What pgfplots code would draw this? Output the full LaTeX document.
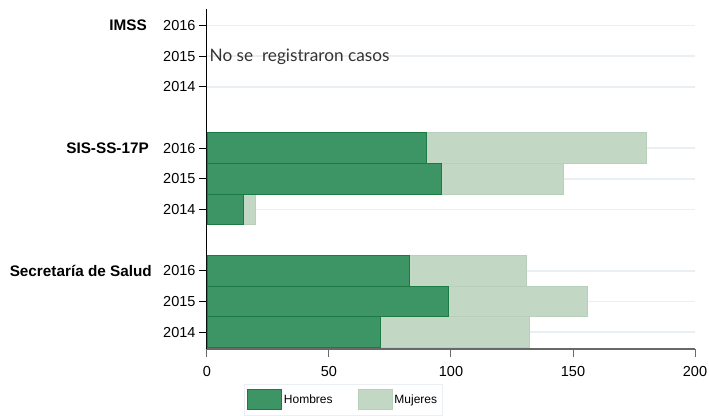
\documentclass[border=0pt]{standalone}
\usepackage{fontspec}
\setmainfont{Liberation Sans}
\newfontfamily\latofont{Lato}
\usepackage{pgfplots}
\pgfplotsset{compat=1.18}
\definecolor{hombres}{RGB}{61,148,101}
\definecolor{hombresborde}{RGB}{28,122,68}
\definecolor{mujeres}{RGB}{194,216,196}
\definecolor{mujeresborde}{RGB}{183,207,187}
\definecolor{rejilla}{RGB}{233,239,242}
\definecolor{ejex}{RGB}{105,105,105}
\pgfplotsset{caja legend/.style={legend image code/.code={\draw[##1] (0pt,-10pt) rectangle (34pt,10pt);}}}

\begin{document}
\begin{tikzpicture}
\useasboundingbox (-207pt,-66pt) rectangle (502pt,349pt);
\begin{axis}[
    scale only axis,
    width=488pt, height=340.4pt,
    xbar stacked,
    bar width=1,
    xmin=0, xmax=200,
    ymin=-0.55, ymax=10.55,
    xtick={0,50,100,150,200},
    ytick={0,1,2,4,5,6,8,9,10},
    yticklabels={2014,2015,2016,2014,2015,2016,2014,2015,2016},
    axis x line=bottom,
    axis y line=left,
    x axis line style={-, ejex, line width=1.8pt},
    y axis line style={-, black, line width=1pt},
    tick align=outside,
    major tick length=8pt,
    xtick style={ejex, line width=1pt},
    ytick style={black, line width=0.9pt},
    xmajorgrids=false,
    ymajorgrids=true,
    y grid style={rejilla, line width=1.5pt},
    tick label style={font=\fontsize{14.5}{16}\selectfont},
    xticklabel style={yshift=-6pt},
    /pgf/number format/assume math mode=true,
    clip=false,
    legend columns=2,
    legend style={at={(0.0758,-0.103)}, anchor=north west, draw=rejilla,
        font=\fontsize{12}{14}\selectfont, inner xsep=3pt, inner ysep=5pt,
        /tikz/every even column/.append style={column sep=23pt}},
]
\addplot[fill=hombres, draw=hombresborde, line width=0.8pt, caja legend]
    coordinates {(71,0) (99,1) (83,2) (15,4) (96,5) (90,6)};
\addlegendentry{Hombres}
\addplot[fill=mujeres, draw=mujeresborde, line width=0.8pt, caja legend]
    coordinates {(61,0) (57,1) (48,2) (5,4) (50,5) (90,6)};
\addlegendentry{Mujeres}

\node[anchor=west, inner sep=0pt, text=black!80,
    font=\latofont\fontsize{17.2}{19}\selectfont]
    at (axis cs:0,9) [xshift=2.5pt, yshift=-1pt] {No se\ \ registraron casos};

\node[anchor=east, inner sep=0pt, font=\bfseries\fontsize{15.3}{17}\selectfont]
    at (axis cs:0,10) [xshift=-60pt] {IMSS};
\node[anchor=east, inner sep=0pt, font=\bfseries\fontsize{15.3}{17}\selectfont]
    at (axis cs:0,6) [xshift=-58pt] {SIS-SS-17P};
\node[anchor=east, inner sep=0pt, font=\bfseries\fontsize{15.3}{17}\selectfont]
    at (axis cs:0,2) [xshift=-55pt] {Secretaría de Salud};
\end{axis}
\end{tikzpicture}
\end{document}
